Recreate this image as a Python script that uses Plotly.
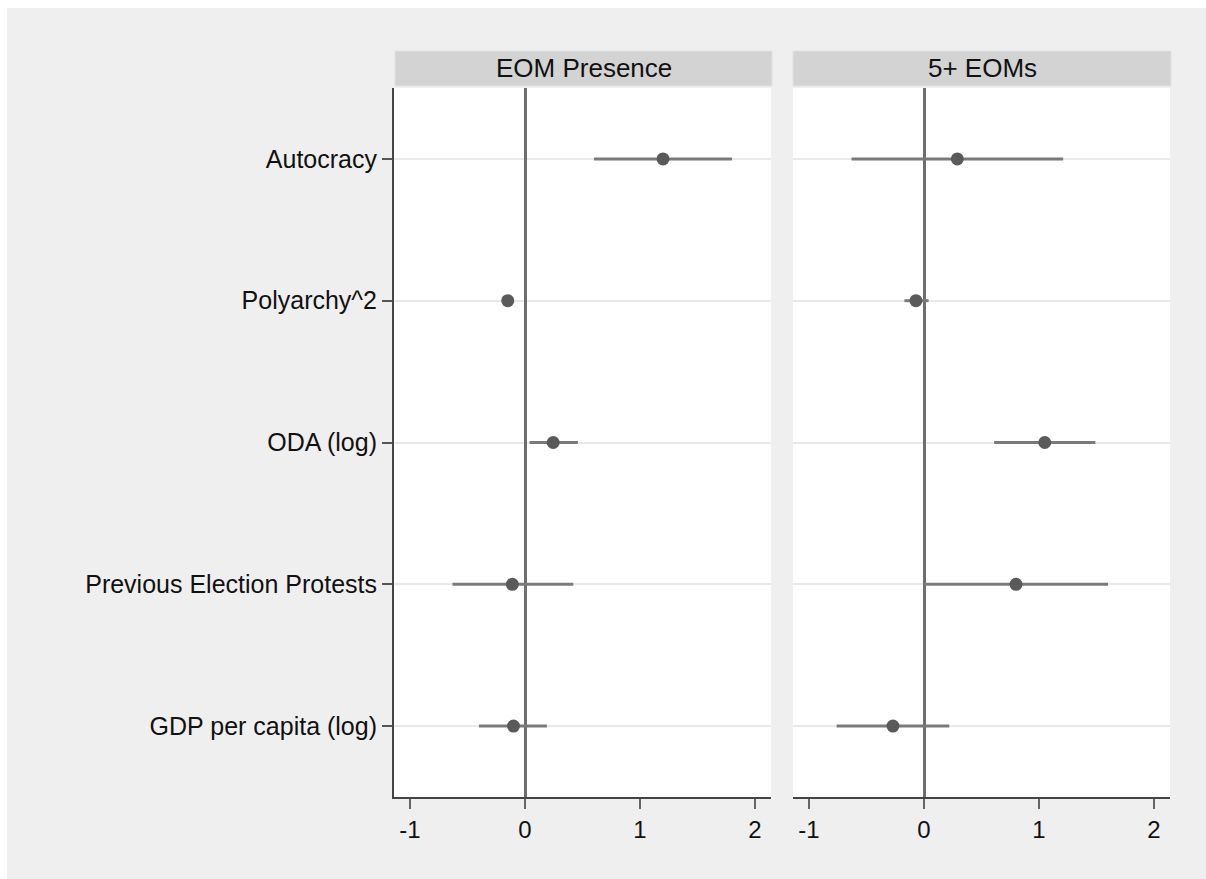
import plotly.graph_objects as go

categories = ["Autocracy", "Polyarchy^2", "ODA (log)", "Previous Election Protests", "GDP per capita (log)"]
panels = ["EOM Presence", "5+ EOMs"]

est_presence = [1.20, -0.15, 0.245, -0.11, -0.10]
lo_presence = [0.60, -0.18, 0.04, -0.63, -0.40]
hi_presence = [1.80, -0.12, 0.46, 0.42, 0.19]

est_five = [0.29, -0.07, 1.05, 0.80, -0.27]
lo_five = [-0.63, -0.17, 0.61, 0.00, -0.76]
hi_five = [1.21, 0.04, 1.49, 1.60, 0.22]

x_ticks = [-1, 0, 1, 2]

W, H = 1206, 879
ML, MR, MT, MB = 394, 36, 51, 82
PW, PH = W - ML - MR, H - MT - MB


def px_x(x):
    return (x - ML) / PW


def px_y(y):
    return (H - MB - y) / PH


fig = go.Figure()

series = [(est_presence, lo_presence, hi_presence, "x", "y"),
          (est_five, lo_five, hi_five, "x2", "y2")]
for est, lo, hi, xa, ya in series:
    fig.add_trace(go.Scatter(
        x=est, y=categories, xaxis=xa, yaxis=ya, mode="markers",
        marker=dict(color="#5a5a5a", size=13),
        error_x=dict(type="data", symmetric=False,
                     array=[h - e for h, e in zip(hi, est)],
                     arrayminus=[e - l for e, l in zip(est, lo)],
                     color="#7a7a7a", thickness=3, width=0),
        showlegend=False, hoverinfo="skip"))

xr = [-1.139, 2.139]
ydom = [0, px_y(88)]
common_x = dict(range=xr, tickvals=x_ticks, ticktext=["-1", "0", "1", "2"],
                ticks="outside", ticklen=10, tickwidth=2, tickcolor="#666",
                showline=True, linecolor="#444", linewidth=2,
                showgrid=False, zeroline=True, zerolinecolor="#6e6e6e", zerolinewidth=2.5,
                tickfont=dict(family="Liberation Sans", size=24, color="#111"),
                fixedrange=True)
fig.update_layout(
    width=W, height=H,
    margin=dict(l=ML, r=MR, t=MT, b=MB),
    paper_bgcolor="#efefef", plot_bgcolor="white",
    xaxis=dict(domain=[0, px_x(771)], anchor="y", **common_x),
    xaxis2=dict(domain=[px_x(793), 1], anchor="y2", **common_x),
    yaxis=dict(domain=ydom, type="category", categoryorder="array", categoryarray=categories,
               range=[4.5, -0.5], showline=True, linecolor="#444", linewidth=2,
               ticks="outside", ticklen=10, tickwidth=2, tickcolor="#555",
               showgrid=True, gridcolor="#e9e9e9", gridwidth=2,
               tickfont=dict(family="Liberation Sans", size=25, color="#111"),
               anchor="x"),
    yaxis2=dict(domain=ydom, type="category", categoryorder="array", categoryarray=categories,
                range=[4.5, -0.5], showline=False, showticklabels=False, ticks="",
                showgrid=True, gridcolor="#e9e9e9", gridwidth=2, anchor="x2", matches="y"),
)

shapes = [
    dict(type="rect", xref="paper", yref="paper", x0=px_x(0), x1=px_x(W), y0=px_y(8), y1=px_y(0),
         fillcolor="white", line=dict(width=0), layer="below"),
    dict(type="rect", xref="paper", yref="paper", x0=px_x(0), x1=px_x(7), y0=px_y(H), y1=px_y(0),
         fillcolor="white", line=dict(width=0), layer="below"),
]
strips = [(395, 772), (793, 1171)]
for (a, b), title in zip(strips, panels):
    shapes.append(dict(type="rect", xref="paper", yref="paper", x0=px_x(a), x1=px_x(b),
                       y0=px_y(86), y1=px_y(51), fillcolor="#d3d3d3",
                       line=dict(color="#dde3e7", width=1)))
    fig.add_annotation(xref="paper", yref="paper", x=(px_x(a) + px_x(b)) / 2, y=(px_y(86) + px_y(51)) / 2,
                       text=title, showarrow=False, xanchor="center", yanchor="middle",
                       font=dict(family="Liberation Sans", size=26, color="#111"))
fig.update_layout(shapes=shapes)

fig.write_html("out.html")
